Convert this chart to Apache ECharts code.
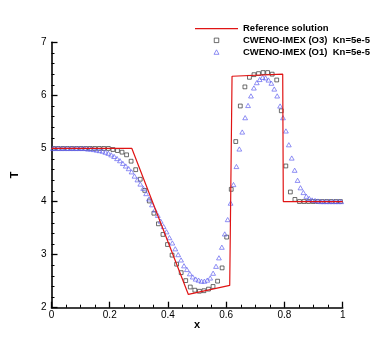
<!DOCTYPE html>
<html>
<head>
<meta charset="utf-8">
<script src="https://cdn.jsdelivr.net/npm/echarts@6/dist/echarts.min.js"></script>
<style>
html,body{margin:0;padding:0;background:#fff;}
#chart{width:390px;height:347px;}
</style>
</head>
<body>
<div id="chart"></div>
<script>
// Reference solution (piecewise line)
var refX = [0, 0.276, 0.470, 0.612, 0.620, 0.794, 0.796, 1.0];
var refT = [5.0, 5.0, 2.25, 2.42, 6.36, 6.40, 4.0, 4.0];

// CWENO-IMEX (O3) squares
var o3X = [
0.0078,0.0234,0.0391,0.0547,0.0703,0.0859,0.1016,0.1172,
0.1328,0.1484,0.1641,0.1797,0.1953,0.2109,0.2266,0.2422,
0.2578,0.2734,0.2891,0.3047,0.3203,0.3359,0.3516,0.3672,
0.3828,0.3984,0.4141,0.4297,0.4453,0.4609,0.4766,0.4922,
0.5078,0.5234,0.5391,0.5547,0.5703,0.5859,0.6016,0.6172,
0.6328,0.6484,0.6641,0.6797,0.6953,0.7109,0.7266,0.7422,
0.7578,0.7734,0.7891,0.8047,0.8203,0.8359,0.8516,0.8672,
0.8828,0.8984,0.9141,0.9297,0.9453,0.9609,0.9766,0.9922];
var o3T = [
5.00,5.00,5.00,5.00,5.00,5.00,5.00,5.00,
5.00,5.00,5.00,5.00,5.00,4.98,4.96,4.93,
4.88,4.76,4.60,4.42,4.21,4.01,3.78,3.58,
3.38,3.19,2.99,2.82,2.66,2.51,2.39,2.33,
2.31,2.32,2.35,2.40,2.50,2.75,3.33,4.23,
5.13,5.80,6.16,6.34,6.39,6.41,6.43,6.43,
6.40,6.29,5.71,4.67,4.18,4.04,4.00,4.00,
4.00,4.00,4.00,4.00,4.00,4.00,4.00,4.00];

// CWENO-IMEX (O1) triangles
var o1X = [
0.005,0.015,0.025,0.035,0.045,0.055,0.065,0.075,0.085,0.095,
0.105,0.115,0.125,0.135,0.145,0.155,0.165,0.175,0.185,0.195,
0.205,0.215,0.225,0.235,0.245,0.255,0.265,0.275,0.285,0.295,
0.305,0.315,0.325,0.335,0.345,0.355,0.365,0.375,0.385,0.395,
0.405,0.415,0.425,0.435,0.445,0.455,0.465,0.475,0.485,0.495,
0.505,0.515,0.525,0.535,0.545,0.555,0.565,0.575,0.585,0.595,
0.605,0.615,0.625,0.635,0.645,0.655,0.665,0.675,0.685,0.695,
0.705,0.715,0.725,0.735,0.745,0.755,0.765,0.775,0.785,0.795,
0.805,0.815,0.825,0.835,0.845,0.855,0.865,0.875,0.885,0.895,
0.905,0.915,0.925,0.935,0.945,0.955,0.965,0.975,0.985,0.995];
var o1T = [
5.00,5.00,5.00,5.00,5.00,5.00,5.00,5.00,5.00,5.00,
5.00,5.00,4.99,4.99,4.98,4.97,4.96,4.95,4.93,4.91,
4.88,4.85,4.81,4.77,4.72,4.67,4.62,4.56,4.48,4.41,
4.33,4.25,4.15,4.05,3.94,3.84,3.74,3.63,3.53,3.43,
3.32,3.22,3.11,3.00,2.90,2.79,2.72,2.64,2.58,2.54,
2.52,2.50,2.50,2.52,2.56,2.65,2.78,2.94,3.14,3.39,
3.66,3.97,4.32,4.66,4.99,5.31,5.58,5.81,5.99,6.14,
6.24,6.30,6.34,6.33,6.29,6.23,6.12,5.99,5.80,5.58,
5.33,5.07,4.82,4.59,4.40,4.26,4.17,4.10,4.06,4.03,
4.02,4.01,4.00,4.00,4.00,4.00,4.00,4.00,4.00,4.00];

var seriesNames = ['Reference solution', 'CWENO-IMEX (O3)  Kn=5e-5', 'CWENO-IMEX (O1)  Kn=5e-5'];
var xTicks = ['0', '0.2', '0.4', '0.6', '0.8', '1'];

function pairs(xs, ys) { return xs.map(function (x, i) { return [x, ys[i]]; }); }

var FONT = '"Liberation Sans", Arial, Helvetica, sans-serif';
var RED = '#e01414';
var BLUE = '#6464f0';
var GREY = '#333333';
var chart = echarts.init(document.getElementById('chart'), null, {renderer: 'canvas'});
chart.setOption({
  animation: false,
  backgroundColor: '#ffffff',
  grid: {left: 51.5, right: 47.3, top: 42.3, bottom: 39.3, containLabel: false},
  legend: {
    orient: 'vertical',
    left: 195, top: 22.8, padding: 0,
    itemWidth: 43, itemHeight: 4.5, itemGap: 0,
    symbolKeepAspect: true,
    selectedMode: false,
    textStyle: {fontFamily: FONT, fontSize: 9.5, fontWeight: 'bold', color: '#000', lineHeight: 11.7},
    data: [
      {name: seriesNames[0], icon: 'path://M0,0L43,0L43,1.1L0,1.1Z', itemStyle: {color: RED, borderWidth: 0}},
      {name: seriesNames[1], icon: 'path://M0,0L10,0L10,10L0,10Z', itemStyle: {color: 'rgba(0,0,0,0)', borderColor: GREY, borderWidth: 0.9}},
      {name: seriesNames[2], icon: 'path://M5,0L10,9L0,9Z', itemStyle: {color: 'rgba(0,0,0,0)', borderColor: BLUE, borderWidth: 0.9}}
    ]
  },
  xAxis: {
    type: 'value', min: 0, max: 1, interval: 0.2,
    name: 'x', nameLocation: 'middle', nameGap: 12, nameMoveOverlap: false,
    nameTextStyle: {fontFamily: FONT, fontSize: 11, fontWeight: 'bold', color: '#000'},
    axisLine: {show: true, onZero: false, lineStyle: {color: '#000', width: 1.6}},
    axisTick: {show: true, inside: true, length: 6, lineStyle: {color: '#000', width: 1.3}},
    minorTick: {show: true, splitNumber: 4, length: 3, lineStyle: {color: '#000', width: 1}},
    splitLine: {show: false},
    axisLabel: {margin: 3, fontFamily: FONT, fontSize: 10, color: '#000',
      formatter: function (v) { return xTicks[Math.round(v * 5)]; }}
  },
  yAxis: {
    type: 'value', min: 2, max: 7, interval: 1,
    name: 'T', nameLocation: 'middle', nameGap: 31, nameRotate: 90, nameMoveOverlap: false,
    nameTextStyle: {fontFamily: FONT, fontSize: 11, fontWeight: 'bold', color: '#000'},
    axisLine: {show: true, onZero: false, lineStyle: {color: '#000', width: 1.6}},
    axisTick: {show: true, inside: true, length: 6, lineStyle: {color: '#000', width: 1.3}},
    minorTick: {show: true, splitNumber: 5, length: 3, lineStyle: {color: '#000', width: 1}},
    splitLine: {show: false},
    axisLabel: {margin: 5, fontFamily: FONT, fontSize: 10, color: '#000'}
  },
  series: [
    {
      name: seriesNames[0], type: 'line', data: pairs(refX, refT),
      symbol: 'none', lineStyle: {color: RED, width: 1.2}, itemStyle: {color: RED}
    },
    {
      name: seriesNames[1], type: 'scatter', data: pairs(o3X, o3T),
      symbol: 'rect', symbolSize: 3.8,
      itemStyle: {color: 'rgba(0,0,0,0)', borderColor: GREY, borderWidth: 0.9}
    },
    {
      name: seriesNames[2], type: 'scatter', data: pairs(o1X, o1T),
      symbol: 'triangle', symbolSize: [4.8, 4.2],
      itemStyle: {color: 'rgba(0,0,0,0)', borderColor: BLUE, borderWidth: 0.9}
    }
  ]
});
</script>
</body>
</html>
